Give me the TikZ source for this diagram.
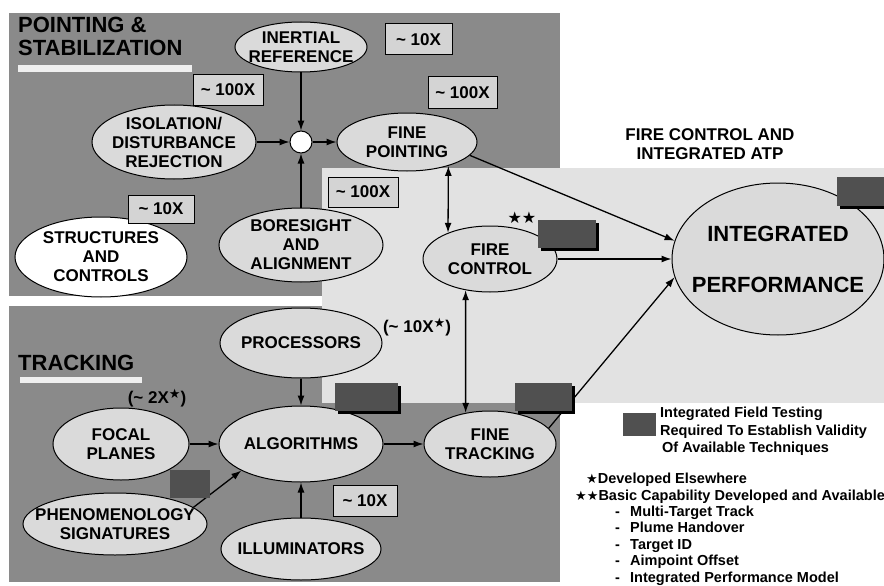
\documentclass[tikz,border=0pt]{standalone}
\usepackage{fontspec}
\setmainfont{Liberation Sans}
\newfontfamily\symfont{DejaVu Sans}
\usetikzlibrary{shapes.geometric,arrows.meta,shadows}

\definecolor{darkpanel}{HTML}{8A8A8A}
\definecolor{lightpanel}{HTML}{E2E2E2}
\definecolor{ellfill}{HTML}{DADADA}
\definecolor{boxfill}{HTML}{D4D4D4}
\definecolor{testfill}{HTML}{505050}
\definecolor{headbar}{HTML}{EFEFEF}

\newcommand{\onestar}[1]{{\symfont\fontsize{#1}{#1}\selectfont ★}}
\newcommand{\supstar}{\raisebox{5pt}{\onestar{13}}}

\begin{document}
\begin{tikzpicture}[x=1pt,y=-1pt,
  tip/.style={-{Latex[length=10pt,width=7pt]}},
  conn/.style={line width=1.3pt,tip},
  twoway/.style={line width=1.3pt,{Latex[length=10pt,width=7pt]}-{Latex[length=10pt,width=7pt]}},
  oval/.style={ellipse,draw,line width=1pt,fill=ellfill,inner sep=0pt},
  lbl/.style={align=center,inner sep=0pt,font=\fontsize{17}{19}\selectfont\bfseries},
  head/.style={inner sep=0pt,anchor=base west,font=\fontsize{22}{24}\selectfont\bfseries},
  factor/.style={draw,line width=1pt,fill=boxfill,inner sep=0pt,font=\fontsize{17}{19}\selectfont\bfseries},
  testbox/.style={fill=testfill,draw=none,inner sep=0pt,
    drop shadow={shadow xshift=3pt,shadow yshift=-3pt,fill=black,opacity=1}},
  plainbox/.style={fill=testfill,draw=none,inner sep=0pt},
  legend/.style={inner sep=0pt,anchor=base west,font=\fontsize{14.5}{17}\selectfont\bfseries},
]
\clip (0,0) rectangle (884,586);
\fill[white] (0,0) rectangle (884,586);

% background panels
\fill[darkpanel] (9,13) rectangle (560,296);
\fill[darkpanel] (9,306) rectangle (560,582);
\fill[lightpanel] (322,168) rectangle (884,403);

% section headings
\fill[headbar] (18,65) rectangle (192,72);
\fill[headbar] (20,377) rectangle (142,383);
\node[head] (hps1) at (18,33) {POINTING \&};
\node[head] (hps2) at (18,56) {STABILIZATION};
\node[head] (htrk) at (18,370) {TRACKING};
\node[lbl] (hfc) at (710,144) {FIRE CONTROL AND\\INTEGRATED ATP};

% pointing and stabilization
\node[oval,minimum width=132pt,minimum height=50pt] (ir) at (301,47) {};
\node[lbl] (irt) at (ir) {INERTIAL\\REFERENCE};
\node[oval,minimum width=164pt,minimum height=74pt] (iso) at (174,142) {};
\node[lbl] (isot) at (iso) {ISOLATION/\\DISTURBANCE\\REJECTION};
\node[circle,draw,line width=1pt,fill=white,minimum size=22pt,inner sep=0pt] (sum) at (301,142) {};
\node[oval,minimum width=140pt,minimum height=58pt] (fp) at (407,142) {};
\node[lbl] (fpt) at (fp) {FINE\\POINTING};
\node[oval,fill=white,minimum width=172pt,minimum height=80pt] (sc) at (101,257) {};
\node[lbl] (sct) at (sc) {STRUCTURES\\AND\\CONTROLS};
\node[oval,minimum width=164pt,minimum height=74pt] (bore) at (301,245) {};
\node[lbl] (boret) at (bore) {BORESIGHT\\AND\\ALIGNMENT};

\node[factor,minimum width=67pt,minimum height=31pt] (f1) at (418.5,39.5) {\textasciitilde\ 10X};
\node[factor,minimum width=70pt,minimum height=30pt] (f2) at (228,90) {\textasciitilde\ 100X};
\node[factor,minimum width=69pt,minimum height=31pt] (f3) at (462.5,92.5) {\textasciitilde\ 100X};
\node[factor,minimum width=70pt,minimum height=30pt] (f4) at (363,192) {\textasciitilde\ 100X};
\node[factor,minimum width=66pt,minimum height=28pt] (f5) at (161,209) {\textasciitilde\ 10X};

% fire control and integrated ATP
\node[oval,minimum width=134pt,minimum height=66pt] (fc) at (490,259) {};
\node[lbl] (fct) at (fc) {FIRE\\CONTROL};
\node[inner sep=0pt] (fcstars) at (522,218) {\onestar{16}\onestar{16}};
\node[oval,minimum width=212pt,minimum height=152pt] (ip) at (778,259) {};
\node[lbl,font=\fontsize{22}{24}\selectfont\bfseries] (ipt) at (ip) {INTEGRATED\\[27pt]PERFORMANCE};

% tracking
\node[oval,minimum width=162pt,minimum height=70pt] (proc) at (301,343) {};
\node[lbl] (proct) at (proc) {PROCESSORS};
\node[lbl] (procx) at (417,327) {(\textasciitilde\ 10X\supstar)};
\node[lbl] (focx) at (157,398) {(\textasciitilde\ 2X\supstar)};
\node[oval,minimum width=136pt,minimum height=72pt] (focal) at (121,444) {};
\node[lbl] (focalt) at (focal) {FOCAL\\PLANES};
\node[oval,minimum width=164pt,minimum height=76pt] (algo) at (301,444) {};
\node[lbl] (algot) at (algo) {ALGORITHMS};
\node[oval,minimum width=132pt,minimum height=66pt] (ft) at (490,444) {};
\node[lbl] (ftt) at (ft) {FINE\\TRACKING};
\node[oval,minimum width=184pt,minimum height=62pt] (phen) at (115,524) {};
\node[lbl] (phent) at (phen) {PHENOMENOLOGY\\SIGNATURES};
\node[oval,minimum width=160pt,minimum height=62pt] (illum) at (301,549) {};
\node[lbl] (illumt) at (illum) {ILLUMINATORS};
\node[factor,minimum width=64pt,minimum height=31pt] (f6) at (365,500.5) {\textasciitilde\ 10X};

% connectors
\draw[conn] (ir.south) -- (sum.north);
\draw[conn] (iso.east) -- (sum.west);
\draw[conn] (sum.east) -- (fp.west);
\draw[conn] (bore.north) -- (sum.south);
\draw[conn] (fp.-12) -- (ip.170);
\draw[twoway] (fp.-30) -- (fc.148);
\draw[conn] (fc.east) -- (ip.west);
\draw[twoway] (fc.-128) -- (ft.128);
\draw[conn] (ft.15) -- (ip.190);
\draw[conn] (proc.south) -- (algo.north);
\draw[conn] (focal.east) -- (algo.west);
\draw[conn] (phen.12) -- (algo.204);
\draw[conn] (illum.north) -- (algo.south);
\draw[conn] (algo.east) -- (ft.west);

% boxes marking integrated field testing
\node[testbox,minimum width=58pt,minimum height=28pt] (t1) at (567,234) {};
\node[testbox,minimum width=54pt,minimum height=29pt] (t2) at (864,191.5) {};
\node[testbox,minimum width=63pt,minimum height=28pt] (t3) at (366.5,397) {};
\node[testbox,minimum width=57pt,minimum height=28pt] (t4) at (543.5,397) {};
\node[plainbox,minimum width=40pt,minimum height=28pt] (t5) at (190,484) {};

% legend
\node[plainbox,minimum width=33pt,minimum height=23pt] (lbox) at (639.5,424.5) {};
\node[legend] (l1) at (660,417) {Integrated Field Testing};
\node[legend] (l2) at (660,435) {Required To Establish Validity};
\node[legend] (l3) at (662,452) {Of Available Techniques};
\node[legend] (l4) at (586,483) {\onestar{13}Developed Elsewhere};
\node[legend] (l5) at (575,500) {\onestar{13}\onestar{13}Basic Capability Developed and Available};
\node[legend] (l6) at (615,516) {\makebox[15pt][l]{-}Multi-Target Track};
\node[legend] (l7) at (615,532.5) {\makebox[15pt][l]{-}Plume Handover};
\node[legend] (l8) at (615,549) {\makebox[15pt][l]{-}Target ID};
\node[legend] (l9) at (615,565.5) {\makebox[15pt][l]{-}Aimpoint Offset};
\node[legend] (l10) at (615,582) {\makebox[15pt][l]{-}Integrated Performance Model};
\end{tikzpicture}
\end{document}
